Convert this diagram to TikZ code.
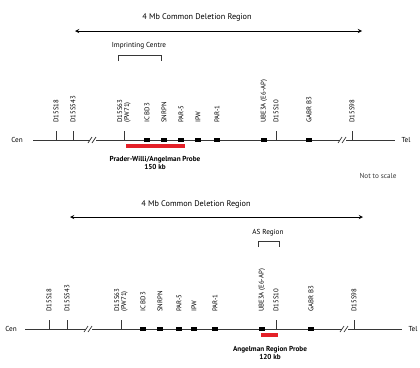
\documentclass[tikz,border=0pt]{standalone}
\usepackage{fontspec}
\setmainfont{PT Sans}
\definecolor{probered}{RGB}{228,32,40}
\definecolor{inkgrey}{RGB}{55,55,55}
\tikzset{
  chrom/.style={line width=0.8pt,inkgrey},
  gene/.style={fill=black,draw=none,minimum width=6pt,minimum height=4.5pt,inner sep=0pt},
  marker/.style={rotate=90,anchor=west,inner sep=0pt,align=left,font=\fontsize{6.8}{7}\selectfont},
  probebar/.style={probered,line width=4pt},
  probetxt/.style={align=center,font=\fontsize{7.2}{8}\selectfont\bfseries},
  brk/.style={line width=0.7pt,inkgrey},
}
\begin{document}
\begin{tikzpicture}[x=1pt,y=-1pt,>=stealth,font=\fontsize{7.2}{8}\selectfont]
\useasboundingbox (0,0) rectangle (420,367);
% upper map
\node (titleA) at (197,17) {\fontsize{8.2}{9}\selectfont 4 Mb Common Deletion Region};
\draw[<->,line width=0.9pt] (75,31)--(362,31);
\node (icA) at (139,46) {Imprinting Centre};
\draw[chrom] (118,61)--(118,55)--(161,55)--(161,61);
\node (cenA) at (17,140) {Cen};
\node (telA) at (406,140) {Tel};
\draw[chrom] (33,140)--(395,140);
\foreach \x in {93,343} {
  \fill[white] (\x-3,137) rectangle (\x+3,143);
  \draw[brk] (\x-5,143)--(\x-1,137) (\x-1,143)--(\x+3,137);
}
\foreach \x/\name in {56/D15S18,73/D15S543,124/{D15S63\\(PW71)},276/D15S10,352/D15S98} {
  \draw[chrom] (\x,131)--(\x,140);
  \node[marker] (mA\x) at (\x,123) {\name};
}
\foreach \x/\name in {147/IC BD3,164/SNRPN,181/PAR-5,198/IPW,217/PAR-1,264/UBE3A (E6-AP),309/GABR B3} {
  \node[gene] (gA\x) at (\x,140) {};
  \node[marker] (lA\x) at (\x,123) {\name};
}
\draw[probebar] (126,146)--(185,146);
\node[probetxt] (probeA) at (155,163) {Prader-Willi/Angelman Probe\\150 kb};
\node[inkgrey] (scale) at (378,176) {Not to scale};
% lower map
\node (titleB) at (196,204) {\fontsize{8.2}{9}\selectfont 4 Mb Common Deletion Region};
\draw[<->,line width=0.9pt] (70,217)--(363,217);
\node (asB) at (268,233) {AS Region};
\draw[chrom] (258,247)--(258,241)--(279,241)--(279,247);
\node (cenB) at (11,329) {Cen};
\node (telB) at (413,329) {Tel};
\draw[chrom] (25,329)--(402,329);
\foreach \x in {89,345} {
  \fill[white] (\x-3,326) rectangle (\x+3,332);
  \draw[brk] (\x-5,332)--(\x-1,326) (\x-1,332)--(\x+3,326);
}
\foreach \x/\name in {49/D15S18,67/D15S543,121/{D15S63\\(PW71)},276/D15S10,354/D15S98} {
  \draw[chrom] (\x,320)--(\x,329);
  \node[marker] (mB\x) at (\x,312) {\name};
}
\foreach \x/\name in {143/IC BD3,160/SNRPN,179/PAR-5,194/IPW,215/PAR-1,262/UBE3A (E6-AP),311/GABR B3} {
  \node[gene] (gB\x) at (\x,329) {};
  \node[marker] (lB\x) at (\x,312) {\name};
}
\draw[probebar] (261,335)--(278,335);
\node[probetxt] (probeB) at (270,353) {Angelman Region Probe\\120 kb};
\end{tikzpicture}
\end{document}
